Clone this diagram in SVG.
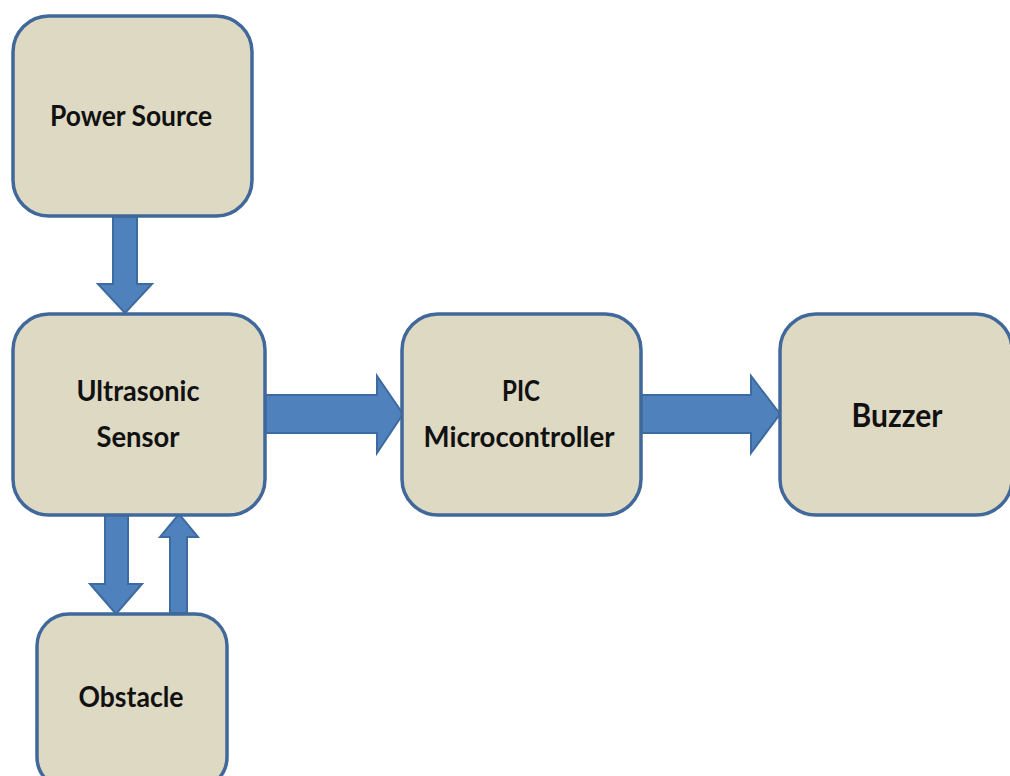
<svg xmlns="http://www.w3.org/2000/svg" width="1010" height="776" viewBox="0 0 1010 776">
<style>
.box{fill:#ddd9c3;stroke:#41689a;stroke-width:3.5}
.arr{fill:#4f81bd;stroke:#3e6b9f;stroke-width:2;stroke-linejoin:miter}
.t{font-family:Lato,"Liberation Sans",sans-serif;font-weight:bold;fill:#111;text-anchor:middle}
</style>
<rect width="1010" height="776" fill="#ffffff"/>
<g id="connectors">
<polygon class="arr" points="113,217 137,217 137,284 152,284 125,313 98,284 113,284"/>
<polygon class="arr" points="265,395 377,395 377,376 403,414 377,453 377,433 265,433"/>
<polygon class="arr" points="641,395 751,395 751,376 780,414 751,453 751,433 641,433"/>
<polygon class="arr" points="105,515 128,515 128,584 142,584 116,614 90,584 105,584"/>
<polygon class="arr" points="170,613 187,613 187,537 198,537 179,514 160,537 170,537"/>
</g>
<g id="power-source">
<rect class="box" x="13" y="16" width="239" height="200" rx="36"/>
<text class="t" x="131" y="126" font-size="28" textLength="162" lengthAdjust="spacingAndGlyphs">Power Source</text>
</g>
<g id="ultrasonic-sensor">
<rect class="box" x="13" y="314" width="252" height="201" rx="36"/>
<text class="t" x="138" y="401" font-size="29" textLength="123" lengthAdjust="spacingAndGlyphs">Ultrasonic</text>
<text class="t" x="138" y="447" font-size="29" textLength="83" lengthAdjust="spacingAndGlyphs">Sensor</text>
</g>
<g id="pic-microcontroller">
<rect class="box" x="402" y="314" width="239" height="201" rx="36"/>
<text class="t" x="521" y="401" font-size="29" textLength="38" lengthAdjust="spacingAndGlyphs">PIC</text>
<text class="t" x="519" y="447" font-size="29" textLength="191" lengthAdjust="spacingAndGlyphs">Microcontroller</text>
</g>
<g id="buzzer">
<rect class="box" x="780" y="314" width="232" height="201" rx="36"/>
<text class="t" x="897" y="427" font-size="33" textLength="91" lengthAdjust="spacingAndGlyphs">Buzzer</text>
</g>
<g id="obstacle">
<rect class="box" x="37" y="614" width="190" height="175" rx="32"/>
<text class="t" x="131" y="707" font-size="29" textLength="105" lengthAdjust="spacingAndGlyphs">Obstacle</text>
</g>
</svg>
